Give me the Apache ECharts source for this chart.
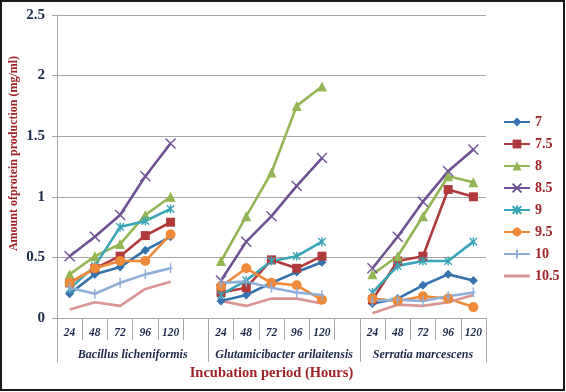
<!DOCTYPE html>
<html>
<head>
<meta charset="utf-8">
<script src="https://cdn.jsdelivr.net/npm/echarts@6/dist/echarts.min.js"></script>
<style>
html,body{margin:0;padding:0;background:#fff;}
#chart{width:566px;height:392px;}
</style>
</head>
<body>
<div id="chart"></div>
<script>
var categories = ['24','48','72','96','120','', '24','48','72','96','120','', '24','48','72','96','120'];
var groupNames = ['Bacillus licheniformis','Glutamicibacter arilaitensis','Serratia marcescens'];
var groupCenters = [3, 9, 14.5];
var groupBounds = [0, 6, 12, 17];
var yTicks = [0, 0.5, 1, 1.5, 2, 2.5];

var seriesNames = ['7','7.5','8','8.5','9','9.5','10','10.5'];
var s7   = [0.20,0.36,0.42,0.56,0.67,null, 0.14,0.19,0.29,0.38,0.46,null, 0.12,0.16,0.27,0.36,0.31];
var s7_5 = [0.29,0.41,0.51,0.68,0.79,null, 0.21,0.25,0.48,0.41,0.51,null, 0.15,0.47,0.51,1.06,1.00];
var s8   = [0.36,0.51,0.61,0.85,1.00,null, 0.47,0.84,1.20,1.75,1.91,null, 0.36,0.51,0.84,1.17,1.12];
var s8_5 = [0.51,0.67,0.85,1.17,1.44,null, 0.31,0.63,0.84,1.09,1.32,null, 0.41,0.67,0.96,1.21,1.39];
var s9   = [0.24,0.43,0.75,0.80,0.90,null, 0.19,0.31,0.47,0.51,0.63,null, 0.21,0.43,0.47,0.47,0.63];
var s9_5 = [0.29,0.41,0.47,0.47,0.69,null, 0.26,0.41,0.29,0.27,0.15,null, 0.16,0.14,0.18,0.16,0.09];
var s10  = [0.25,0.20,0.29,0.36,0.41,null, 0.29,0.30,0.25,0.21,0.19,null, 0.14,0.15,0.14,0.18,0.21];
var s10_5= [0.07,0.13,0.10,0.24,0.30,null, 0.14,0.10,0.16,0.16,0.12,null, 0.04,0.11,0.10,0.13,0.19];
var seriesData = [s7, s7_5, s8, s8_5, s9, s9_5, s10, s10_5];

var colors = ['#3672AE','#B03A3C','#93B553','#6E5294','#3AA5B8','#EF8A3A','#8EADD8','#D99594'];
var symbols = ['diamond','rect','triangle',
  'path://M0,0L10,10M10,0L0,10',
  'path://M0,0L10,10M10,0L0,10M5,-1L5,11',
  'circle',
  'path://M5,0L5,10M3,5L7,5',
  'none'];
var symbolSizes = [9, 9, 10, 10, 9, 10, 10, 0];
var strokeSym = [false,false,false,true,true,false,true,false];

var serif = '"Liberation Serif","DejaVu Serif",serif';
var navy = '#1D2A4A';
var darkRed = '#9E2226';
var gridGray = '#A6A6A6';

var series = seriesNames.map(function(n, i){
  return {
    name: n,
    type: 'line',
    xAxisIndex: 0,
    data: seriesData[i],
    connectNulls: false,
    symbol: symbols[i],
    symbolSize: symbolSizes[i],
    symbolKeepAspect: true,
    showSymbol: symbols[i] !== 'none',
    lineStyle: {width: 2.6, color: colors[i]},
    itemStyle: strokeSym[i] ? {color: colors[i], borderColor: colors[i], borderWidth: 1.4} : {color: colors[i]},
    emphasis: {disabled: true},
    animation: false
  };
});

var legendData = seriesNames.map(function(n, i){
  return symbols[i] === 'none' ? {name: n, icon: 'path://M0,0L26,0L26,3L0,3Z'} : {name: n};
});

var chart = echarts.init(document.getElementById('chart'));
chart.setOption({
  animation: false,
  color: colors,
  grid: {left: 57, right: 80, top: 15, bottom: 74, outerBoundsMode: 'none', containLabel: false},
  legend: {
    orient: 'vertical',
    left: 498, top: 110,
    itemWidth: 26, itemHeight: 11, itemGap: 8,
    data: legendData,
    textStyle: {fontFamily: serif, fontWeight: 'bold', fontSize: 14, color: darkRed}
  },
  xAxis: [{
    type: 'category',
    data: categories,
    boundaryGap: true,
    axisLine: {lineStyle: {color: gridGray, width: 1}},
    axisTick: {show: true, interval: 0, length: 22, lineStyle: {color: gridGray}},
    axisLabel: {interval: 0, margin: 9, fontFamily: serif, fontStyle: 'italic', fontWeight: 'bold', fontSize: 11.5, color: navy},
    splitLine: {show: false}
  }, {
    type: 'value',
    min: 0, max: 17,
    position: 'bottom',
    axisLine: {show: false},
    splitLine: {show: false},
    nameMoveOverlap: false,
    axisTick: {show: true, customValues: groupBounds, length: 44, lineStyle: {color: gridGray}},
    axisLabel: {
      customValues: groupCenters,
      margin: 31,
      fontFamily: serif, fontStyle: 'italic', fontWeight: 'bold', fontSize: 12, color: navy,
      formatter: function(v){ var k = groupCenters.indexOf(v); return k >= 0 ? groupNames[k] : ''; }
    },
    name: 'Incubation period (Hours)',
    nameLocation: 'middle',
    nameGap: 48,
    nameTextStyle: {fontFamily: serif, fontWeight: 'bold', fontSize: 14.5, color: darkRed}
  }],
  yAxis: {
    type: 'value',
    min: 0, max: 2.5, interval: 0.5,
    axisLine: {show: true, lineStyle: {color: gridGray}},
    axisTick: {show: true, length: 5, lineStyle: {color: gridGray}},
    splitLine: {show: true, lineStyle: {color: gridGray, width: 1}},
    axisLabel: {margin: 12, fontFamily: serif, fontWeight: 'bold', fontSize: 15, color: navy,
      formatter: function(v){ return String(v); }},
    name: 'Amount ofprotein production (mg/ml)',
    nameLocation: 'middle',
    nameGap: 37,
    nameRotate: 90,
    nameMoveOverlap: false,
    nameTextStyle: {fontFamily: serif, fontWeight: 'bold', fontSize: 12, color: darkRed, padding: [0,0,0,26]}
  },
  graphic: [{
    type: 'rect',
    shape: {x: 1, y: 1, width: 563, height: 389},
    style: {fill: 'none', stroke: '#1a1a1a', lineWidth: 2},
    silent: true, z: 100
  }],
  series: series
});
</script>
</body>
</html>
